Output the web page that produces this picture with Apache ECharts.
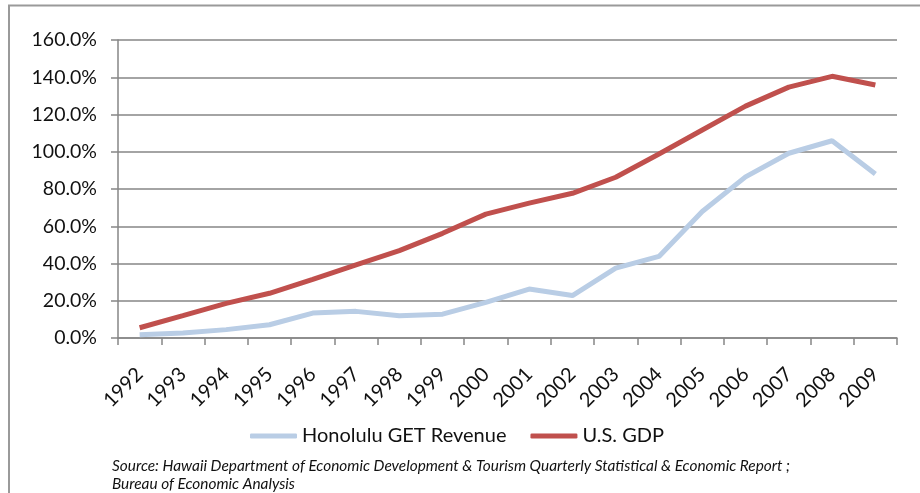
<!DOCTYPE html>
<html>
<head>
<meta charset="utf-8">
<script src="https://cdn.jsdelivr.net/npm/echarts@6/dist/echarts.min.js"></script>
<style>
  html, body { margin: 0; padding: 0; background: #fff; }
  #chart { width: 920px; height: 493px; }
</style>
</head>
<body>
<div id="chart"></div>
<script>
var years = ['1992', '1993', '1994', '1995', '1996', '1997', '1998', '1999', '2000',
  '2001', '2002', '2003', '2004', '2005', '2006', '2007', '2008', '2009'];
// cumulative growth since 1992, in percent
var honoluluGet = [1.8, 2.7, 4.5, 7.1, 13.4, 14.3, 12.0, 12.8, 19.1,
  26.3, 22.8, 37.5, 43.8, 67.9, 86.5, 99.2, 105.9, 88.0];
var usGdp = [5.5, 12.0, 18.6, 24.0, 31.5, 39.3, 46.9, 56.2, 66.5,
  72.4, 77.7, 86.3, 98.8, 111.7, 124.5, 134.7, 140.5, 135.8];
var sourceLines = [
  'Source: Hawaii Department of Economic Development & Tourism Quarterly Statistical & Economic Report ;',
  'Bureau of Economic Analysis'
];

var font = 'Lato, "Open Sans", sans-serif';
var myChart = echarts.init(document.getElementById('chart'));

var option = {
  backgroundColor: '#fff',
  animation: false,
  grid: { left: 118, right: 23, top: 40, bottom: 155, containLabel: false },
  legend: {
    left: 245,
    top: 421,
    itemWidth: 47,
    itemHeight: 5,
    itemGap: 24,
    icon: 'roundRect',
    textStyle: { color: '#111', fontSize: 20, fontFamily: font },
    data: ['Honolulu GET Revenue', 'U.S. GDP']
  },
  xAxis: {
    type: 'category',
    data: years,
    boundaryGap: true,
    axisLine: { lineStyle: { color: '#868686', width: 1.5 } },
    axisTick: { show: true, length: 7, lineStyle: { color: '#868686', width: 1.5 } },
    axisLabel: {
      rotate: 45,
      margin: 33,
      color: '#111',
      fontSize: 20,
      fontFamily: font
    }
  },
  yAxis: {
    type: 'value',
    min: 0,
    max: 160,
    interval: 20,
    axisLine: { show: true, lineStyle: { color: '#868686', width: 1.5 } },
    axisTick: { show: true, length: 7, lineStyle: { color: '#868686', width: 1.5 } },
    splitLine: { lineStyle: { color: '#868686', width: 1.5 } },
    axisLabel: {
      margin: 21,
      color: '#111',
      fontSize: 19.5,
      fontFamily: font,
      formatter: function (v) { return v.toFixed(1) + '%'; }
    }
  },
  graphic: [
    { // chart frame, cut at the top and right
      type: 'polyline',
      shape: { points: [[9, 493], [9, 5.5], [920, 5.5]] },
      style: { stroke: '#9a9a9a', lineWidth: 2, fill: null },
      silent: true
    },
    {
      type: 'text',
      left: 112,
      top: 457,
      style: {
        text: sourceLines.join('\n'),
        fill: '#111',
        font: 'italic 15.4px ' + font,
        lineHeight: 18
      }
    }
  ],
  series: [
    {
      name: 'Honolulu GET Revenue',
      type: 'line',
      data: honoluluGet,
      symbol: 'none',
      lineStyle: { color: '#b9cde5', width: 5 },
      itemStyle: { color: '#b9cde5' }
    },
    {
      name: 'U.S. GDP',
      type: 'line',
      data: usGdp,
      symbol: 'none',
      lineStyle: { color: '#c0504d', width: 5 },
      itemStyle: { color: '#c0504d' }
    }
  ]
};
myChart.setOption(option);
</script>
</body>
</html>
